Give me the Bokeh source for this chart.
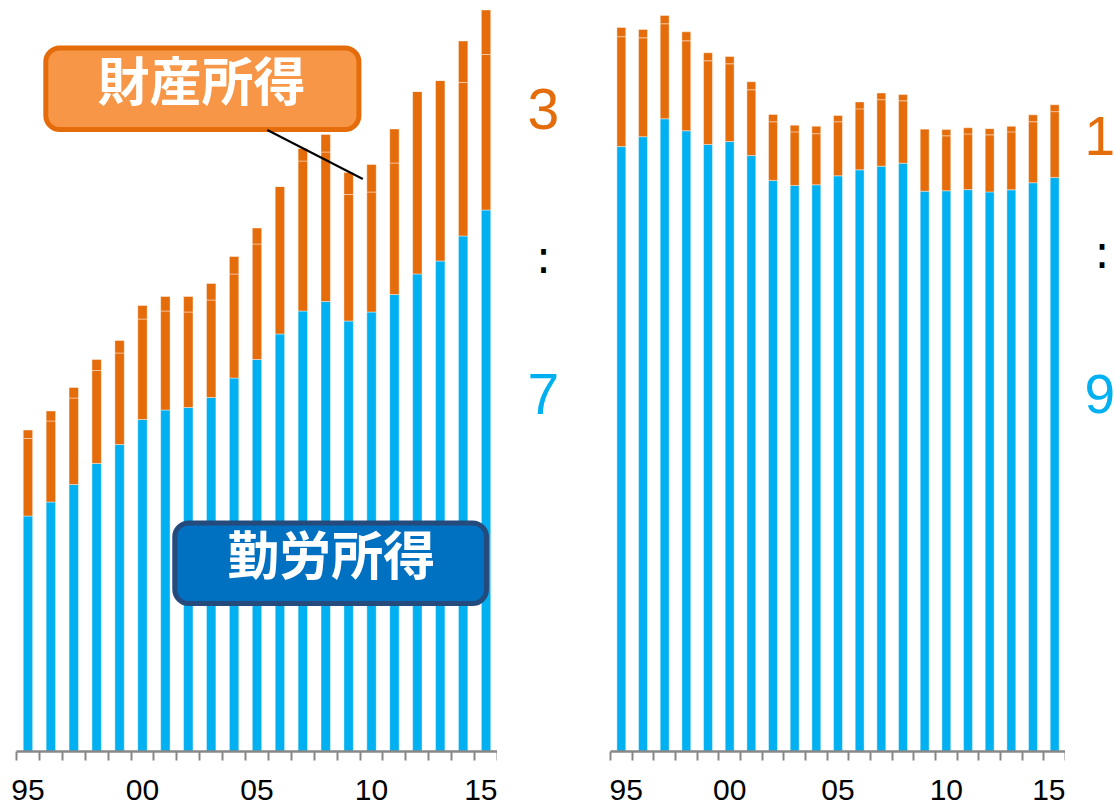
from bokeh.plotting import figure
from bokeh.layouts import row
from bokeh.models import (ColumnDataSource, Range1d, FixedTicker, CustomJSTickFormatter,
                          BoxAnnotation, Label, Arrow)
from bokeh.embed import file_html
from bokeh.resources import INLINE

# ---------------- data ----------------
years = list(range(1995, 2016))

# left panel (rising income; ratio 3 : 7)
left_labor = [4.71, 4.99, 5.34, 5.76, 6.14, 6.64, 6.83, 6.88, 7.08, 7.47, 7.84,
              8.35, 8.81, 9.00, 8.61, 8.79, 9.14, 9.55, 9.81, 10.31, 10.83]
left_prop_a = [1.55, 1.62, 1.73, 1.86, 1.83, 2.01, 1.98, 1.91, 1.95, 2.08, 2.31,
               2.95, 3.00, 2.99, 2.53, 2.40, 2.63, 3.65, 3.61, 3.07, 3.11]
left_prop_b = [0.17, 0.20, 0.21, 0.22, 0.25, 0.27, 0.29, 0.31, 0.33, 0.35, 0.32,
               0.00, 0.25, 0.35, 0.44, 0.55, 0.68, 0.00, 0.00, 0.83, 0.89]

# right panel (flat income; ratio 1 : 9)
right_labor = [263.0, 267.3, 275.1, 269.9, 263.9, 265.2, 259.1, 248.3, 246.1, 246.4, 250.3,
               252.9, 254.5, 255.8, 243.6, 243.8, 244.3, 243.3, 244.2, 247.3, 249.6]
right_prop_a = [47.8, 43.0, 41.3, 39.1, 36.4, 33.8, 28.6, 25.5, 23.3, 22.2, 23.5,
                26.5, 28.9, 27.1, 27.1, 23.9, 24.2, 24.8, 25.2, 26.5, 28.6]
right_prop_b = [4.0, 3.6, 3.6, 3.9, 3.5, 3.2, 3.5, 3.2, 2.9, 3.3, 2.7,
                3.0, 2.9, 2.7, 0.0, 2.7, 2.7, 2.7, 2.4, 3.0, 3.0]

tick_years = [1995, 2000, 2005, 2010, 2015]
tick_labels = ["95", "00", "05", "10", "15"]

label_property = "財産所得"
label_labor = "勤労所得"
left_ratio = ["3", ":", "7"]
right_ratio = ["1", ":", "9"]

# ---------------- style ----------------
BLUE = "#00B0F0"
ORANGE = "#E46C0A"
AXIS_GREY = "#888888"
H = 806
TOP = 8
FRAME_H = 743
BOTTOM = H - TOP - FRAME_H


def base_fig(width, border_left, border_right, x_range, y_top, with_axis):
    p = figure(width=width, height=H, output_backend="svg", toolbar_location=None,
               x_range=x_range, y_range=Range1d(0, y_top), y_axis_location=None,
               x_axis_location="below" if with_axis else None,
               min_border_left=border_left, min_border_right=border_right,
               min_border_top=TOP, min_border_bottom=BOTTOM)
    p.outline_line_color = None
    for g in p.grid:
        g.visible = False
    p.background_fill_color = "white"
    p.border_fill_color = "white"
    return p


def make_panel(width, border_left, y_top, labor, prop_a, prop_b):
    p = base_fig(width, border_left, 0, Range1d(years[0] - 0.5, years[-1] + 0.5), y_top, True)
    src = ColumnDataSource(dict(year=years, labor=labor, prop_a=prop_a, prop_b=prop_b))
    p.vbar_stack(["labor", "prop_a", "prop_b"], x="year", width=0.41, source=src,
                 fill_color=[BLUE, ORANGE, ORANGE], line_color="white",
                 line_alpha=0.4, line_width=1)

    bounds = [y - 0.5 for y in years] + [years[-1] + 0.5]
    ax = p.xaxis[0]
    ax.ticker = FixedTicker(ticks=tick_years, minor_ticks=bounds)
    ax.formatter = CustomJSTickFormatter(
        args=dict(tyears=tick_years, tlabels=tick_labels),
        code="const i = tyears.indexOf(tick); return i >= 0 ? tlabels[i] : '';")
    ax.axis_line_color = AXIS_GREY
    ax.axis_line_width = 2.5
    ax.major_tick_out = 0
    ax.major_tick_in = 0
    ax.minor_tick_out = 9
    ax.minor_tick_in = 0
    ax.minor_tick_line_color = AXIS_GREY
    ax.minor_tick_line_width = 2
    ax.major_label_standoff = 19
    ax.major_label_text_font = "Liberation Sans"
    ax.major_label_text_font_size = "30px"
    ax.major_label_text_color = "black"
    return p


def ratio_fig(width, y_top, texts, xs, ys, size):
    p = base_fig(width, 0, 0, Range1d(0, 1), y_top, False)
    colors = [ORANGE, "black", BLUE]
    fonts = ["Liberation Sans", "DejaVu Sans", "Liberation Sans"]
    sizes = [size, "46px", size]
    for t, x, y, c, f, s in zip(texts, xs, ys, colors, fonts, sizes):
        p.add_layout(Label(x=x, y=y, text=t, text_color=c, text_font=f,
                           text_font_size=s, text_align="center",
                           text_baseline="alphabetic"))
    return p


# left panel
L_TOP = FRAME_H / 50.0
pL = make_panel(497, 16, L_TOP, left_labor, left_prop_a, left_prop_b)

pL.add_layout(BoxAnnotation(left=1995.78, right=2009.45, top=14.07, bottom=12.44,
                            fill_color="#F79646", fill_alpha=1.0,
                            line_color=ORANGE, line_width=5, line_alpha=1.0,
                            border_radius=14))
pL.add_layout(Label(x=2002.58, y=13.47, text=label_property, text_color="white",
                    text_font="Noto Sans CJK JP", text_font_style="bold",
                    text_font_size="52px", text_align="center", text_baseline="middle"))
pL.add_layout(Arrow(x_start=2005.45, y_start=12.43, x_end=2009.62, y_end=11.45,
                    end=None, line_color="black", line_width=2))

pL.add_layout(BoxAnnotation(left=2001.41, right=2015.02, top=4.57, bottom=2.96,
                            fill_color="#0070C0", fill_alpha=1.0,
                            line_color="#254A7C", line_width=5, line_alpha=1.0,
                            border_radius=14))
pL.add_layout(Label(x=2008.24, y=3.98, text=label_labor, text_color="white",
                    text_font="Noto Sans CJK JP", text_font_style="bold",
                    text_font_size="52px", text_align="center", text_baseline="middle"))

tL = ratio_fig(112, L_TOP, left_ratio, [0.41, 0.41, 0.41], [12.85, 9.90, 7.15], "57px")

# right panel
R_TOP = FRAME_H / 2.3
pR = make_panel(456, 1, R_TOP, right_labor, right_prop_a, right_prop_b)
tR = ratio_fig(49, R_TOP, right_ratio, [0.70, 0.745, 0.70], [267.4, 217.1, 155.3], "55px")

layout = row(pL, tL, pR, tR)
open("out.html", "w").write(file_html(layout, INLINE))
